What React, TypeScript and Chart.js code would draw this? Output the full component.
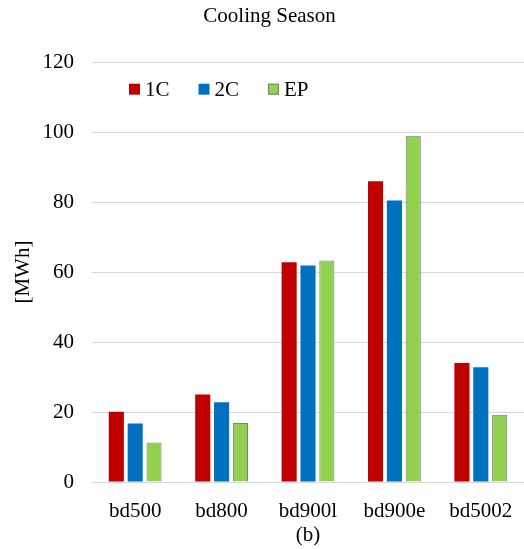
import React, { useEffect, useRef } from "react";
import { Chart, registerables } from "chart.js";

Chart.register(...registerables);

const categories = ["bd500", "bd800", "bd900l", "bd900e", "bd5002"];
const series1C = [20.1, 25.0, 62.8, 86.0, 34.0];
const series2C = [16.7, 22.8, 61.9, 80.5, 32.8];
const seriesEP = [11.3, 16.9, 63.3, 99.0, 19.2];
const seriesNames = ["1C", "2C", "EP"];
const chartTitle = "Cooling Season";
const yTitle = "[MWh]";
const xTitle = "(b)";

const FONT = "'Liberation Serif', 'Times New Roman', serif";
const FS = 21;

const legendPlugin = {
  id: "insideLegend",
  afterDraw(chart: any) {
    const { ctx, chartArea } = chart;
    ctx.save();
    ctx.font = `${FS}px ${FONT}`;
    ctx.textBaseline = "middle";
    let x = chartArea.left + 37;
    const y = chartArea.top + 27;
    chart.data.datasets.forEach((ds: any) => {
      const box = 11;
      ctx.fillStyle = ds.backgroundColor;
      ctx.fillRect(x, y - box / 2, box, box);
      if (ds.borderWidth) {
        ctx.strokeStyle = ds.borderColor;
        ctx.lineWidth = 1;
        ctx.strokeRect(x + 0.5, y - box / 2 + 0.5, box - 1, box - 1);
      }
      x += box + 5;
      ctx.fillStyle = "#000";
      ctx.textAlign = "left";
      ctx.fillText(ds.label, x, y + 1);
      x += ctx.measureText(ds.label).width + 29;
    });
    ctx.restore();
  },
};

export default function App() {
  const ref = useRef<HTMLCanvasElement | null>(null);
  useEffect(() => {
    if (!ref.current) return;
    const chart = new Chart(ref.current, {
      type: "bar",
      data: {
        labels: categories,
        datasets: [
          { label: seriesNames[0], data: series1C, backgroundColor: "#C00000", borderWidth: 0 },
          { label: seriesNames[1], data: series2C, backgroundColor: "#0070C0", borderWidth: 0 },
          { label: seriesNames[2], data: seriesEP, backgroundColor: "#92D050", borderColor: "#7F7F7F", borderWidth: 1 },
        ],
      },
      options: {
        responsive: false,
        animation: false,
        datasets: { bar: { categoryPercentage: 0.655, barPercentage: 0.8 } },
        layout: { padding: { left: 11, right: -4, top: 0, bottom: 0 } },
        plugins: {
          legend: { display: false },
          tooltip: { enabled: false },
          title: {
            display: true,
            text: chartTitle,
            color: "#000",
            font: { family: FONT, size: FS, weight: "normal" },
            padding: { top: 4, bottom: 33 },
          },
        },
        scales: {
          x: {
            grid: { display: false },
            border: { display: false },
            ticks: { color: "#000", font: { family: FONT, size: FS }, padding: 9, maxRotation: 0 },
            title: {
              display: true,
              text: xTitle,
              color: "#000",
              font: { family: FONT, size: FS },
              padding: { top: 0, bottom: 1 },
            },
            afterFit(scale: any) {
              scale.height = 67;
            },
          },
          y: {
            min: 0,
            max: 120,
            ticks: { stepSize: 20, color: "#000", font: { family: FONT, size: FS }, padding: 18 },
            grid: { color: "#D9D9D9", lineWidth: 1, drawTicks: false },
            border: { display: false },
            title: {
              display: true,
              text: yTitle,
              color: "#000",
              font: { family: FONT, size: FS },
              padding: 0,
            },
            afterFit(scale: any) {
              scale.width = 81;
            },
          },
        },
      },
      plugins: [legendPlugin],
    });
    return () => chart.destroy();
  }, []);
  return (
    <div style={{ position: "fixed", left: 0, top: 0, width: 524, height: 549, background: "#fff" }}>
      <canvas ref={ref} width={524} height={549} style={{ width: 524, height: 549 }} />
    </div>
  );
}
